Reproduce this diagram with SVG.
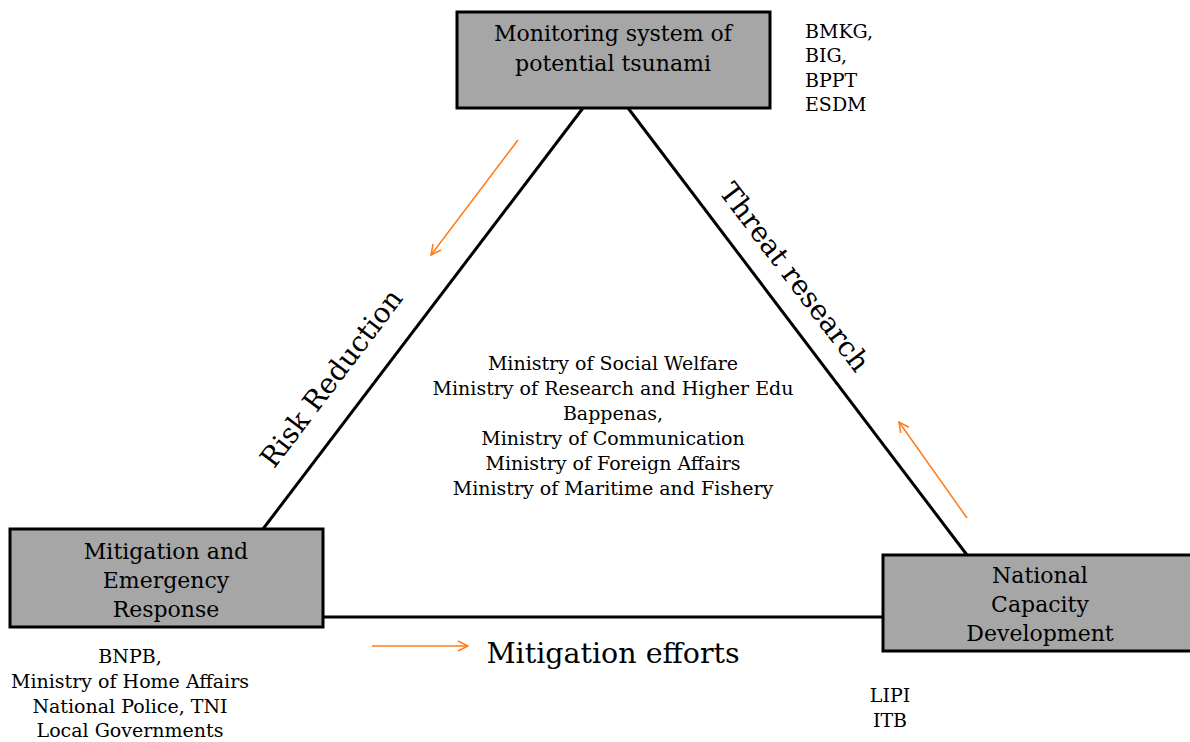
<svg xmlns="http://www.w3.org/2000/svg" width="1190" height="742" viewBox="0 0 1190 742">
<defs>
<style>
.box{fill:#a6a6a6;stroke:#000;stroke-width:3}
.t{font-family:"DejaVu Serif","Liberation Serif",serif;fill:#000;text-anchor:middle}
.n{font-size:22px}
.s{font-size:19px}
.lbl{font-size:28px}
.edge{stroke:#000;stroke-width:3;fill:none}
.arr{stroke:#ff7a1a;stroke-width:1.5;fill:none}
</style>
<marker id="oa" viewBox="0 0 12 12" refX="11" refY="6" markerWidth="12" markerHeight="12" markerUnits="userSpaceOnUse" orient="auto">
<path d="M1,1 L11,6 L1,11" fill="none" stroke="#ff7a1a" stroke-width="1.5"/>
</marker>
</defs>
<rect width="1190" height="742" fill="#fff"/>
<g id="connectors">
<line class="edge" x1="583" y1="108" x2="263" y2="529"/>
<line class="edge" x1="628" y1="108" x2="967" y2="555"/>
<line class="edge" x1="323" y1="617" x2="883" y2="617"/>
<line class="arr" x1="518" y1="140" x2="431" y2="255" marker-end="url(#oa)"/>
<line class="arr" x1="967" y1="518" x2="899" y2="422" marker-end="url(#oa)"/>
<line class="arr" x1="372" y1="646" x2="468" y2="646" marker-end="url(#oa)"/>
<text class="t lbl" transform="translate(339,384) rotate(-52.8)">Risk Reduction</text>
<text class="t lbl" transform="translate(787,283) rotate(52.8)">Threat research</text>
<text class="t" style="font-size:28.5px" x="613" y="663">Mitigation efforts</text>
</g>
<g id="node-monitoring">
<rect class="box" x="457" y="12" width="313" height="96"/>
<text class="t n" x="613" y="41">Monitoring system of</text>
<text class="t n" x="613" y="71">potential tsunami</text>
</g>
<g id="monitoring-agencies">
<text class="t s" style="text-anchor:start" x="805" y="38">BMKG,</text>
<text class="t s" style="text-anchor:start" x="805" y="62">BIG,</text>
<text class="t s" style="text-anchor:start" x="805" y="87">BPPT</text>
<text class="t s" style="text-anchor:start" x="805" y="111">ESDM</text>
</g>
<g id="node-mitigation">
<rect class="box" x="10" y="529" width="313" height="98"/>
<text class="t n" x="166" y="559">Mitigation and</text>
<text class="t n" x="166" y="588">Emergency</text>
<text class="t n" x="166" y="617">Response</text>
</g>
<g id="mitigation-agencies">
<text class="t s" x="130" y="663">BNPB,</text>
<text class="t s" x="130" y="688">Ministry of Home Affairs</text>
<text class="t s" x="130" y="713">National Police, TNI</text>
<text class="t s" x="130" y="737">Local Governments</text>
</g>
<g id="node-capacity">
<rect class="box" x="883" y="555" width="320" height="96"/>
<text class="t n" x="1040" y="583">National</text>
<text class="t n" x="1040" y="612">Capacity</text>
<text class="t n" x="1040" y="641">Development</text>
</g>
<g id="capacity-agencies">
<text class="t s" x="890" y="702">LIPI</text>
<text class="t s" x="890" y="727">ITB</text>
</g>
<g id="central-ministries">
<text class="t s" x="613" y="370">Ministry of Social Welfare</text>
<text class="t s" x="613" y="395">Ministry of Research and Higher Edu</text>
<text class="t s" x="613" y="420">Bappenas,</text>
<text class="t s" x="613" y="445">Ministry of Communication</text>
<text class="t s" x="613" y="470">Ministry of Foreign Affairs</text>
<text class="t s" x="613" y="495">Ministry of Maritime and Fishery</text>
</g>
</svg>
